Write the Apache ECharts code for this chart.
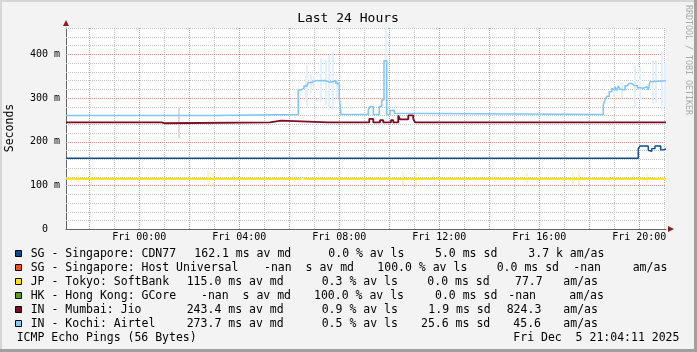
<!DOCTYPE html>
<html><head><meta charset="utf-8">
<script src="https://cdn.jsdelivr.net/npm/echarts@6/dist/echarts.min.js"></script>
<style>html,body{margin:0;padding:0;background:#f3f3f3}#c{width:697px;height:352px}</style>
</head><body><div id="c"></div>
<script>
// time axis: hours relative to Fri 00:00 (graph spans Thu 21:04 -> Fri 21:04)
const START = -2.93, END = 21.07;
const Y_MIN = 0, Y_MAX = 460;
const xTickValues = [0, 4, 8, 12, 16, 20];
const xTickLabels = ['Fri 00:00', 'Fri 04:00', 'Fri 08:00', 'Fri 12:00', 'Fri 16:00', 'Fri 20:00'];
const yTickValues = [0, 100, 200, 300, 400];
const yTickLabels = ['0  ', '100 m', '200 m', '300 m', '400 m'];
const xMinorGrid = [-1, 1, 3, 5, 7, 9, 11, 13, 15, 17, 19, 21];
const xMajorGrid = [-2, 0, 2, 4, 6, 8, 10, 12, 14, 16, 18, 20];
const yMinorGrid = [20, 40, 60, 80, 120, 140, 160, 180, 220, 240, 260, 280, 320, 340, 360, 380, 420, 440, 460];
const yMajorGrid = [100, 200, 300, 400];

// series: [hour, ms] breakpoints (value holds until next point)
const cdn77 = [[START,162],[19.96,184],[20.03,190],[20.36,180],[20.4,178],[20.5,184],[20.63,190],[20.86,181],[20.96,183],[END,183]];
const softbank = [[START,115],[6.5,115],[6.51,null],[6.56,115],[END,115]];
const jio = [[START,244],[-0.21,242],[-0.13,244],[0.9,242],[1.03,244],[5.23,248],[5.67,244],[7.56,247],[7.63,244],[9.2,252],[9.36,244],[9.63,249],[9.76,244],[10.07,249],[10.16,244],[10.36,260],[10.43,251],[10.76,260],[10.96,252],[11.03,244],[END,244]];
const airtel = [[START,260],[3.03,262],[6.36,318],[6.46,322],[6.59,327],[6.70,331],[6.76,335],[6.90,339],[7.03,340],[7.43,336],[7.63,340],[7.87,333],[8.0,303],[8.07,262],[9.16,272],[9.23,280],[9.36,262],[9.60,281],[9.70,295],[9.79,385],[9.90,262],[10.03,271],[10.10,272],[10.2,265],[10.26,262],[18.56,284],[18.63,295],[18.70,304],[18.80,314],[18.90,322],[18.96,318],[19.03,326],[19.10,317],[19.16,327],[19.23,320],[19.30,318],[19.43,328],[19.52,329],[19.59,333],[19.70,329],[19.79,326],[19.87,328],[19.92,323],[20.03,327],[20.10,322],[20.16,318],[20.23,326],[20.30,329],[20.36,318],[20.43,337],[20.46,339],[END,339]];

// smoke: [hour, low ms, high ms]
const airtelSmoke = [[6.66,300,350],[6.70,280,375],[6.85,310,355],[6.98,315,350],[7.28,290,391],[7.47,284,387],[7.60,272,398],[7.76,272,406],[7.90,300,345],[9.85,262,460],[18.97,303,329],[19.31,300,335],[19.83,280,375],[20.03,295,371],[20.55,288,387],[20.67,290,385],[20.9,272,406],[21.03,280,380]];
const jioSmoke = [[1.6,208,280]];
const softbankSmoke = [[-2.46,108,124],[-1.93,100,130],[2.74,100,133],[2.96,100,128],[3.86,110,118],[10.54,100,131],[11.07,100,130],[15.5,104,128],[15.99,112,120],[17.34,103,129],[17.59,100,132],[18.79,108,120],[20.3,105,128],[20.7,112,120]];

// legend
const legendColors = ['#0b4c8c', '#ff4d1a', '#ffe01a', '#56a01e', '#7d0a26', '#86caff'];
const legendRows = [
  ['SG - Singapore: CDN77', '162.1 ms av md', '0.0 % av ls', '5.0 ms sd', '3.7 k am/as'],
  ['SG - Singapore: Host Universal', '-nan  s av md', '100.0 % av ls', '0.0 ms sd', '-nan', 'am/as'],
  ['JP - Tokyo: SoftBank', '115.0 ms av md', '0.3 % av ls', '0.0 ms sd', '77.7', 'am/as'],
  ['HK - Hong Kong: GCore', '-nan  s av md', '100.0 % av ls', '0.0 ms sd', '-nan', 'am/as'],
  ['IN - Mumbai: Jio', '243.4 ms av md', '0.9 % av ls', '1.9 ms sd', '824.3', 'am/as'],
  ['IN - Kochi: Airtel', '273.7 ms av md', '0.5 % av ls', '25.6 ms sd', '45.6', 'am/as']
];
const footerTexts = ['ICMP Echo Pings (56 Bytes)', 'Fri Dec  5 21:04:11 2025'];
const titleText = 'Last 24 Hours';
const yAxisTitle = 'Seconds';
const watermark = 'RRDTOOL / TOBI OETIKER';

// layout (pixel positions of legend text pieces)
const legendX = [
  [30.7, 194.3, 328.3, 435, 528.3],
  [30.7, 264, 377.3, 496.7, 573.3, 632.7],
  [30.7, 186.7, 321.7, 427.3, 515, 563.3],
  [30.7, 201, 314, 435, 508.3, 569.3],
  [30.7, 186.7, 321.7, 428.3, 506.7, 563.3],
  [30.7, 186.7, 321.7, 421, 513.3, 563.3]
];
const legendY0 = 254, legendDY = 14;
const MONO = '"DejaVu Sans Mono", monospace';

const chart = echarts.init(document.getElementById('c'), null, {renderer: 'canvas'});

function vLineRender(color) {
  return function (params, api) {
    const t = api.value(0);
    const a = api.coord([t, Y_MIN]), b = api.coord([t, Y_MAX]);
    const x = Math.round(a[0]) + 0.5;
    return {type: 'line', shape: {x1: x, y1: a[1], x2: x, y2: b[1]}, style: {stroke: color, lineWidth: 1, lineDash: [1, 1]}};
  };
}
function hLineRender(color) {
  return function (params, api) {
    const v = api.value(1);
    const a = api.coord([START, v]), b = api.coord([END, v]);
    const y = Math.round(a[1]) + 0.5;
    return {type: 'line', shape: {x1: a[0], y1: y, x2: b[0], y2: y}, style: {stroke: color, lineWidth: 1, lineDash: [1, 1]}};
  };
}
function smokeRender(color) {
  return function (params, api) {
    const t = api.value(0), lo = api.value(1), hi = api.value(2);
    const a = api.coord([t, hi]), b = api.coord([t, lo]);
    const x = Math.round(a[0]);
    return {type: 'rect', shape: {x: x - 1, y: a[1], width: 2, height: b[1] - a[1]}, style: {fill: color}};
  };
}

const graphics = [];
// frame
graphics.push({type: 'rect', shape: {x: 0, y: 0, width: 697, height: 2}, style: {fill: '#d6d6d6'}, silent: true});
graphics.push({type: 'rect', shape: {x: 0, y: 0, width: 2, height: 352}, style: {fill: '#d6d6d6'}, silent: true});
graphics.push({type: 'rect', shape: {x: 694, y: 0, width: 3, height: 352}, style: {fill: '#a0a0a0'}, silent: true});
graphics.push({type: 'rect', shape: {x: 0, y: 349, width: 697, height: 3}, style: {fill: '#a0a0a0'}, silent: true});
// title
graphics.push({type: 'text', x: 348, y: 19, style: {text: titleText, font: '13px ' + MONO, fill: '#000', align: 'center', verticalAlign: 'middle'}});
// y axis title
graphics.push({type: 'text', x: 10, y: 128, rotation: Math.PI / 2, style: {text: yAxisTitle, font: '11.5px ' + MONO, fill: '#000', align: 'center', verticalAlign: 'middle'}});
// watermark
graphics.push({type: 'text', x: 688, y: 60, rotation: -Math.PI / 2, style: {text: watermark, font: '8.3px ' + MONO, fill: '#aaaaaa', align: 'center', verticalAlign: 'middle'}});
// legend
legendRows.forEach(function (row, i) {
  const cy = legendY0 + i * legendDY;
  graphics.push({type: 'rect', shape: {x: 15.5, y: cy - 3.5, width: 6, height: 6}, style: {fill: legendColors[i], stroke: '#000', lineWidth: 1}});
  row.forEach(function (txt, j) {
    graphics.push({type: 'text', x: legendX[i][j], y: cy, style: {text: txt, font: '11.5px ' + MONO, fill: '#000', align: 'left', verticalAlign: 'middle'}});
  });
});
const fy = legendY0 + 6 * legendDY + 0.3;
graphics.push({type: 'text', x: 16.7, y: fy, style: {text: footerTexts[0], font: '11.5px ' + MONO, fill: '#000', align: 'left', verticalAlign: 'middle'}});
graphics.push({type: 'text', x: 513.3, y: fy, style: {text: footerTexts[1], font: '11.5px ' + MONO, fill: '#000', align: 'left', verticalAlign: 'middle'}});

const option = {
  animation: false,
  backgroundColor: '#f3f3f3',
  grid: {left: 66, top: 28, width: 600, height: 201, show: true, backgroundColor: '#ffffff', borderWidth: 0},
  xAxis: [{
    type: 'value', min: START, max: END, position: 'bottom',
    axisLine: {show: true, onZero: false, lineStyle: {color: '#666', width: 1}},
    axisTick: {show: false},
    splitLine: {show: false},
    axisLabel: {
      customValues: xTickValues, margin: 3, color: '#000', fontFamily: MONO, fontSize: 10,
      formatter: function (v) { const k = xTickValues.findIndex(function (x) { return Math.abs(x - v) < 1e-6; }); return k >= 0 ? xTickLabels[k] : ''; }
    }
  }, {
    type: 'value', min: START, max: END, position: 'bottom',
    axisLine: {show: true, onZero: false, symbol: ['none', 'triangle'], symbolSize: [6, 6], symbolOffset: [0, 5], lineStyle: {color: '#8a1c1c', width: 0}},
    axisTick: {show: false}, axisLabel: {show: false}, splitLine: {show: false}
  }],
  yAxis: [{
    type: 'value', min: Y_MIN, max: Y_MAX, position: 'left',
    axisLine: {show: true, onZero: false, lineStyle: {color: '#666', width: 1}},
    axisTick: {show: false},
    splitLine: {show: false},
    axisLabel: {
      customValues: yTickValues, margin: 6, color: '#000', fontFamily: MONO, fontSize: 10,
      formatter: function (v) { const k = yTickValues.indexOf(v); return k >= 0 ? yTickLabels[k] : ''; }
    }
  }, {
    type: 'value', min: Y_MIN, max: Y_MAX, position: 'left',
    axisLine: {show: true, onZero: false, symbol: ['none', 'triangle'], symbolSize: [6, 6], symbolOffset: [0, 5], lineStyle: {color: '#8a1c1c', width: 0}},
    axisTick: {show: false}, axisLabel: {show: false}, splitLine: {show: false}
  }],
  series: [
    {type: 'custom', name: 'gx1', z: 1, silent: true, renderItem: vLineRender('#c4c4c4'), data: xMinorGrid.map(function (v) { return [v, 0]; }), encode: {x: 0, y: 1}},
    {type: 'custom', name: 'gy1', z: 1, silent: true, renderItem: hLineRender('#c4c4c4'), data: yMinorGrid.map(function (v) { return [START, v]; }), encode: {x: 0, y: 1}},
    {type: 'custom', name: 'gx2', z: 1, silent: true, renderItem: vLineRender('#e59595'), data: xMajorGrid.map(function (v) { return [v, 0]; }), encode: {x: 0, y: 1}},
    {type: 'custom', name: 'gy2', z: 1, silent: true, renderItem: hLineRender('#e59595'), data: yMajorGrid.map(function (v) { return [START, v]; }), encode: {x: 0, y: 1}},
    {type: 'custom', name: 'smokeA', z: 2, silent: true, clip: true, renderItem: smokeRender('#e2f1fd'), data: airtelSmoke, encode: {x: 0, y: [1, 2]}},
    {type: 'custom', name: 'smokeJ', z: 2, silent: true, clip: true, renderItem: smokeRender('#ecd6db'), data: jioSmoke, encode: {x: 0, y: [1, 2]}},
    {type: 'custom', name: 'smokeS', z: 2, silent: true, clip: true, renderItem: smokeRender('#fff6c4'), data: softbankSmoke, encode: {x: 0, y: [1, 2]}},
    {type: 'line', name: 'JP - Tokyo: SoftBank', z: 3, step: 'end', showSymbol: false, connectNulls: false, data: softbank, lineStyle: {color: '#ffe000', width: 2}},
    {type: 'line', name: 'SG - Singapore: CDN77', z: 3, step: 'end', showSymbol: false, data: cdn77, lineStyle: {color: '#0b4c8c', width: 1.4}},
    {type: 'line', name: 'IN - Mumbai: Jio', z: 3, step: 'end', showSymbol: false, data: jio, lineStyle: {color: '#7d0a26', width: 1.8}},
    {type: 'line', name: 'IN - Kochi: Airtel', z: 3, step: 'end', showSymbol: false, data: airtel, lineStyle: {color: '#7ec5f8', width: 1.5}}
  ],
  graphic: graphics
};
chart.setOption(option);
</script>
</body></html>
